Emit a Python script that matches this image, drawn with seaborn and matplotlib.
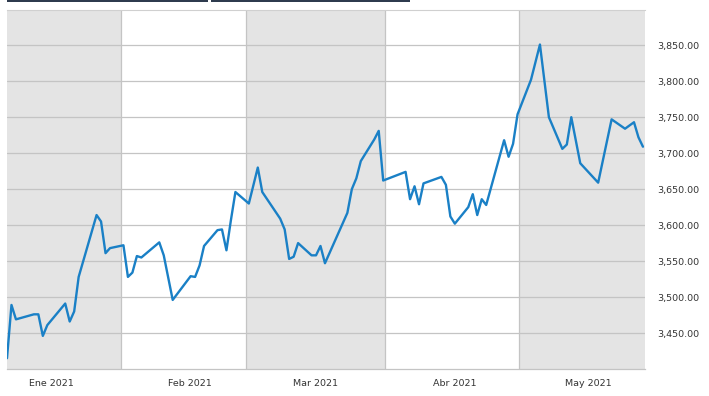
import matplotlib
matplotlib.use("Agg")
import matplotlib.pyplot as plt
import matplotlib.dates as mdates
from matplotlib.patches import Rectangle
import pandas as pd
import seaborn as sns

# ---- data ----
dates = [
    "2021-01-06", "2021-01-07", "2021-01-08", "2021-01-12", "2021-01-13", "2021-01-14",
    "2021-01-15", "2021-01-19", "2021-01-20", "2021-01-21", "2021-01-22", "2021-01-26",
    "2021-01-27", "2021-01-28", "2021-01-29", "2021-02-01", "2021-02-02", "2021-02-03",
    "2021-02-04", "2021-02-05", "2021-02-09", "2021-02-10", "2021-02-12", "2021-02-16",
    "2021-02-17", "2021-02-18", "2021-02-19", "2021-02-22", "2021-02-23", "2021-02-24",
    "2021-02-25", "2021-02-26", "2021-03-01", "2021-03-03", "2021-03-04", "2021-03-08",
    "2021-03-09", "2021-03-10", "2021-03-11", "2021-03-12", "2021-03-15", "2021-03-16",
    "2021-03-17", "2021-03-18", "2021-03-19", "2021-03-23", "2021-03-24", "2021-03-25",
    "2021-03-26", "2021-03-29", "2021-03-30", "2021-03-31", "2021-04-05", "2021-04-06",
    "2021-04-07", "2021-04-08", "2021-04-09", "2021-04-13", "2021-04-14", "2021-04-15",
    "2021-04-16", "2021-04-19", "2021-04-20", "2021-04-21", "2021-04-22", "2021-04-23",
    "2021-04-27", "2021-04-28", "2021-04-29", "2021-04-30", "2021-05-03", "2021-05-05",
    "2021-05-07", "2021-05-10", "2021-05-11", "2021-05-12", "2021-05-14", "2021-05-18",
    "2021-05-21", "2021-05-24", "2021-05-26", "2021-05-27", "2021-05-28",
]
values = [
    3415, 3489, 3469, 3476, 3476, 3446,
    3461, 3491, 3466, 3480, 3528, 3614,
    3605, 3561, 3568, 3572, 3528, 3534,
    3557, 3555, 3576, 3558, 3496, 3529,
    3528, 3544, 3571, 3593, 3594, 3565,
    3607, 3646, 3630, 3680, 3646, 3609,
    3594, 3553, 3556, 3575, 3558, 3558,
    3571, 3547, 3561, 3617, 3650, 3665,
    3689, 3719, 3731, 3662, 3674, 3636,
    3654, 3629, 3658, 3667, 3656, 3612,
    3602, 3625, 3643, 3614, 3636, 3628,
    3718, 3695, 3713, 3754, 3802, 3851,
    3750, 3706, 3712, 3750, 3686, 3659,
    3747, 3734, 3743, 3722, 3709,
]
month_starts = ["2021-02-01", "2021-03-01", "2021-04-01", "2021-05-01"]
month_labels = ["Ene 2021", "Feb 2021", "Mar 2021", "Abr 2021", "May 2021"]
month_label_pos = ["2021-01-16 12:00", "2021-02-16 10:00", "2021-03-16 12:00",
                   "2021-04-16 17:00", "2021-05-16 10:00"]
y_ticks = [3450, 3500, 3550, 3600, 3650, 3700, 3750, 3800, 3850]

# ---- styling ----
sns.set_theme(style="white")
plt.rcParams["font.family"] = ["DejaVu Sans"]

df = pd.DataFrame({"date": pd.to_datetime(dates) + pd.Timedelta(hours=15),
                   "value": values})

fig = plt.figure(figsize=(7.09, 3.96), dpi=100)
fig.patch.set_facecolor("white")
ax = fig.add_axes([7 / 709, 27 / 396, 638 / 709, 359 / 396])
ax.set_facecolor("white")

x_left = df["date"].iloc[0]
x_right = pd.Timestamp("2021-05-29 02:00")
ms = pd.to_datetime(month_starts)

shade = "#e4e4e4"
ax.axvspan(x_left, ms[0], color=shade, zorder=0, lw=0)
ax.axvspan(ms[1], ms[2], color=shade, zorder=0, lw=0)
ax.axvspan(ms[3], x_right, color=shade, zorder=0, lw=0)
for m in ms:
    ax.axvline(m, color="#c4c4c4", lw=0.9, zorder=1)
for yv in y_ticks:
    ax.axhline(yv, color="#c4c4c4", lw=0.9, zorder=1)

sns.lineplot(data=df, x="date", y="value", ax=ax, color="#1a80c6", lw=1.7,
             zorder=3, legend=False)

ax.set_xlim(x_left, x_right)
ax.set_ylim(3400, 3899)
ax.set_xlabel("")
ax.set_ylabel("")

ax.set_xticks(pd.to_datetime(month_label_pos))
ax.set_xticklabels(month_labels)
ax.set_yticks(y_ticks)
ax.set_yticklabels([f"{v:,.2f}" for v in y_ticks])
ax.yaxis.tick_right()
ax.tick_params(axis="y", length=0, pad=9, labelsize=6.8, labelcolor="#333333")
ax.tick_params(axis="x", length=0, pad=7, labelsize=6.8, labelcolor="#333333")

for s in ["left", "right"]:
    ax.spines[s].set_visible(False)
ax.spines["top"].set_color("#d0d0d0")
ax.spines["top"].set_linewidth(0.8)
ax.spines["bottom"].set_color("#c4c4c4")
ax.spines["bottom"].set_linewidth(0.9)

# header strip at the very top
fig.add_artist(Rectangle((7 / 709, 394 / 396), 201 / 709, 2 / 396,
                         transform=fig.transFigure, color="#2e3b4e", lw=0))
fig.add_artist(Rectangle((211 / 709, 394 / 396), 199 / 709, 2 / 396,
                         transform=fig.transFigure, color="#2e3b4e", lw=0))

fig.savefig("out.png", dpi=100)
